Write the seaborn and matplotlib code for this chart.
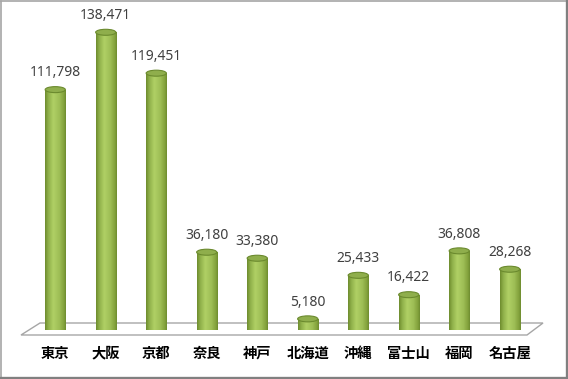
import numpy as np
import pandas as pd
import matplotlib
matplotlib.use("Agg")
import matplotlib.pyplot as plt
import seaborn as sns
from matplotlib.patches import Ellipse, Polygon
from matplotlib.lines import Line2D
from matplotlib.colors import LinearSegmentedColormap

cities = ["東京", "大阪", "京都", "奈良", "神戸", "北海道", "沖縄", "富士山", "福岡", "名古屋"]
values = [111798, 138471, 119451, 36180, 33380, 5180, 25433, 16422, 36808, 28268]

sns.set_theme(style="white")
plt.rcParams['font.family'] = ['Noto Sans CJK JP', 'DejaVu Sans']

W, H = 568, 379
fig = plt.figure(figsize=(W / 100, H / 100), dpi=100)
fig.patch.set_facecolor("white")

# axes placement in pixels
L, R, B, T = 30, 535, 49, 369
ax = fig.add_axes([L / W, B / H, (R - L) / W, (T - B) / H])
ymax = (T - B) / 0.00215

df = pd.DataFrame({"city": cities, "value": values})
sns.barplot(data=df, x="city", y="value", color="#9bbb59", width=0.4, ax=ax,
            zorder=3)
ax.set_ylim(0, ymax)
ax.set_xlim(-0.5, len(cities) - 0.5)
for s in ax.spines.values():
    s.set_visible(False)
ax.set_yticks([])
ax.set_xlabel("")
ax.set_ylabel("")
ax.tick_params(axis="x", length=0, pad=12)
for lab in ax.get_xticklabels():
    lab.set_fontweight("bold")
    lab.set_fontsize(10.3)
    lab.set_color("#000000")

# floor
floor = Polygon([[(40 - L) / (R - L), 7 / (T - B)],
                 [(21 - L) / (R - L), -5 / (T - B)],
                 [(527 - L) / (R - L), -5 / (T - B)],
                 [(543 - L) / (R - L), 7 / (T - B)]],
                closed=True, transform=ax.transAxes, facecolor="white",
                edgecolor="#a6a6a6", lw=1.0, clip_on=False, zorder=1)
ax.add_patch(floor)

cmap = LinearSegmentedColormap.from_list(
    "cyl", [(0, "#6e8c2e"), (0.15, "#8fb04a"), (0.4, "#b0d065"),
            (0.7, "#9dbd55"), (0.9, "#84a33d"), (1, "#6f8d30")])
grad = np.linspace(0, 1, 64).reshape(1, -1)
eh = 6 / 0.00215  # ellipse height in data units

for patch, v in zip(ax.patches, values):
    x0 = patch.get_x()
    w = patch.get_width()
    h = patch.get_height()
    xc = x0 + w / 2
    patch.set_facecolor("none")
    patch.set_edgecolor("none")
    im = ax.imshow(grad, cmap=cmap, extent=[x0, x0 + w, 0, h], aspect="auto",
                   zorder=3, interpolation="bilinear")
    im.set_clip_path(patch)
    bot = Ellipse((xc, 0), w, eh, transform=ax.transData)
    im2 = ax.imshow(grad, cmap=cmap, extent=[x0, x0 + w, -eh, h], aspect="auto",
                    zorder=2.9, interpolation="bilinear")
    ax.add_patch(Ellipse((xc, 0), w, eh, facecolor="none", edgecolor="none"))
    im2.set_clip_path(bot)
    top = Ellipse((xc, h), w, eh, facecolor="#8fae4c", edgecolor="#6b8a2e",
                  lw=0.8, zorder=4, clip_on=False)
    ax.add_patch(top)
    ax.annotate(f"{v:,}", (xc, h + eh / 2), xytext=(0, 4.5),
                textcoords="offset points", ha="center", va="bottom",
                fontsize=10, color="#404040", family=["Noto Sans", "DejaVu Sans"],
                annotation_clip=False)

# border with shadow
fig.add_artist(Line2D([0.5 / W, 0.5 / W], [2 / H, 1 - 0.5 / H], color="#a6a6a6",
                      lw=1.2, transform=fig.transFigure))
fig.add_artist(Line2D([0, 1 - 2 / W], [1 - 0.5 / H, 1 - 0.5 / H], color="#a6a6a6",
                      lw=1.2, transform=fig.transFigure))
fig.add_artist(Line2D([1 - 1.5 / W, 1 - 1.5 / W], [0, 1], color="#808080",
                      lw=2.4, transform=fig.transFigure))
fig.add_artist(Line2D([0, 1], [1.5 / H, 1.5 / H], color="#808080",
                      lw=2.4, transform=fig.transFigure))

fig.savefig("out.png", dpi=100)
